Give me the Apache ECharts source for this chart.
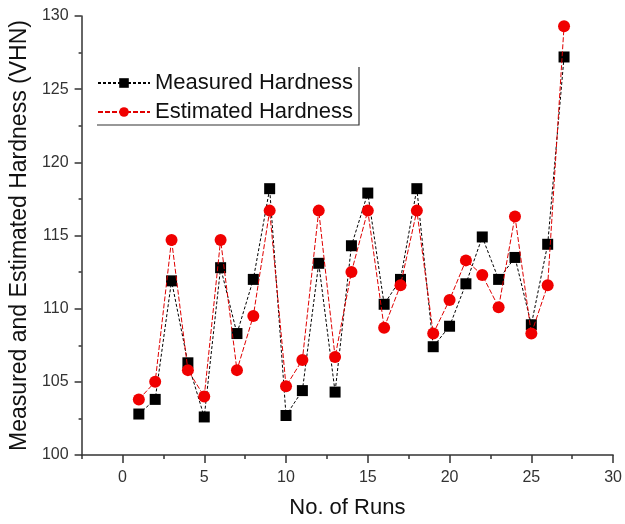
<!DOCTYPE html>
<html lang="en">
<head>
  <meta charset="UTF-8">
  <title>Hardness</title>
  <style type="text/css">
    html, body { margin: 0; padding: 0; background: #fff; }
  </style>
</head>
<body>
  <script src="https://cdn.jsdelivr.net/npm/echarts@6/dist/echarts.min.js"></script>
  <div id="main" style="width:625px;height:524px"></div>
  <script type="text/javascript">
    // values
    var runs = [1, 2, 3, 4, 5, 6, 7, 8, 9, 10, 11, 12, 13, 14, 15, 16, 17, 18, 19, 20, 21, 22, 23, 24, 25, 26, 27];
    var measured = [102.8, 103.8, 111.9, 106.3, 102.6, 112.8, 108.3, 112.0, 118.2, 102.7, 104.4, 113.1, 104.3, 114.3,
                    117.9, 110.3, 112.0, 118.2, 107.4, 108.8, 111.7, 114.9, 112.0, 113.5, 108.9, 114.4, 127.2];
    var estimated = [103.8, 105.0, 114.7, 105.8, 104.0, 114.7, 105.8, 109.5, 116.7, 104.7, 106.5, 116.7, 106.7, 112.5,
                     116.7, 108.7, 111.6, 116.7, 108.3, 110.6, 113.3, 112.3, 110.1, 116.3, 108.3, 111.6, 129.3];
    // x tick positions, every 2.5; labelled (long tick) every 5
    var xTicks = ['-2.5', '0', '2.5', '5', '7.5', '10', '12.5', '15', '17.5', '20', '22.5', '25', '27.5', '30'];

    function pairs(ys) {
      var out = [];
      for (var i = 0; i < runs.length; i++) {
        out.push([runs[i], ys[i]]);
      }
      return out;
    }

    function isMajor(idx, val) {
      return Number(val) % 5 === 0;
    }

    var chartDom = document.getElementById('main');
    var myChart = echarts.init(chartDom);
    var font = 'Liberation Sans, Arial, sans-serif';
    var axisCol = '#333';

    var option = {
      animation: false,
      backgroundColor: '#fff',
      grid: { left: 81, right: 9, top: 16, bottom: 69 },
      legend: {
        orient: 'vertical',
        left: 92,
        top: 67,
        itemGap: 7,
        itemWidth: 52,
        itemHeight: 12,
        textStyle: { fontFamily: font, fontSize: 22, color: '#111' },
        data: ['Measured Hardness', 'Estimated Hardness']
      },
      graphic: [
        {
          type: 'polyline',
          shape: { points: [[359, 67], [359, 125], [97, 125]] },
          style: { stroke: '#333', lineWidth: 1.2, fill: null }
        }
      ],
      xAxis: [
        {
          // value axis carrying the data, short ticks every 2.5
          type: 'value',
          min: -2.5,
          max: 30,
          interval: 2.5,
          position: 'bottom',
          axisLine: { onZero: false, lineStyle: { color: axisCol, width: 1.5 } },
          axisTick: { show: true, length: 4, lineStyle: { color: axisCol, width: 1.5 } },
          axisLabel: { show: false },
          splitLine: { show: false }
        },
        {
          // category overlay for the long ticks and the labels
          type: 'category',
          data: xTicks,
          boundaryGap: false,
          position: 'bottom',
          name: 'No. of Runs',
          nameLocation: 'middle',
          nameGap: 42,
          nameTextStyle: { fontFamily: font, fontSize: 22, color: '#111' },
          axisLine: { show: false, onZero: false },
          axisTick: { show: true, interval: isMajor, length: 8, lineStyle: { color: axisCol, width: 1.5 } },
          axisLabel: { interval: isMajor, margin: 15, fontFamily: font, fontSize: 16, color: '#333' },
          splitLine: { show: false }
        }
      ],
      yAxis: {
        type: 'value',
        min: 100,
        max: 130,
        interval: 5,
        name: 'Measured and Estimated Hardness (VHN)',
        nameLocation: 'middle',
        nameGap: 50,
        nameTextStyle: { fontFamily: font, fontSize: 23, color: '#111' },
        axisLine: { show: true, onZero: false, lineStyle: { color: axisCol, width: 1.5 } },
        axisTick: { show: true, length: 7, lineStyle: { color: axisCol, width: 1.5 } },
        minorTick: { show: true, splitNumber: 2, length: 3, lineStyle: { color: axisCol, width: 1.5 } },
        axisLabel: { margin: 13, fontFamily: font, fontSize: 16, color: '#333' },
        splitLine: { show: false }
      },
      series: [
        {
          name: 'Measured Hardness',
          type: 'line',
          xAxisIndex: 0,
          data: pairs(measured),
          symbol: 'rect',
          symbolSize: 11,
          itemStyle: { color: '#000' },
          lineStyle: { color: '#000', width: 1, type: [3, 2] },
          z: 2
        },
        {
          name: 'Estimated Hardness',
          type: 'line',
          xAxisIndex: 0,
          data: pairs(estimated),
          symbol: 'circle',
          symbolSize: 12,
          itemStyle: { color: '#f00000' },
          lineStyle: { color: '#e00000', width: 1, type: [5, 2] },
          z: 3
        }
      ]
    };

    myChart.setOption(option);
  </script>
</body>
</html>
